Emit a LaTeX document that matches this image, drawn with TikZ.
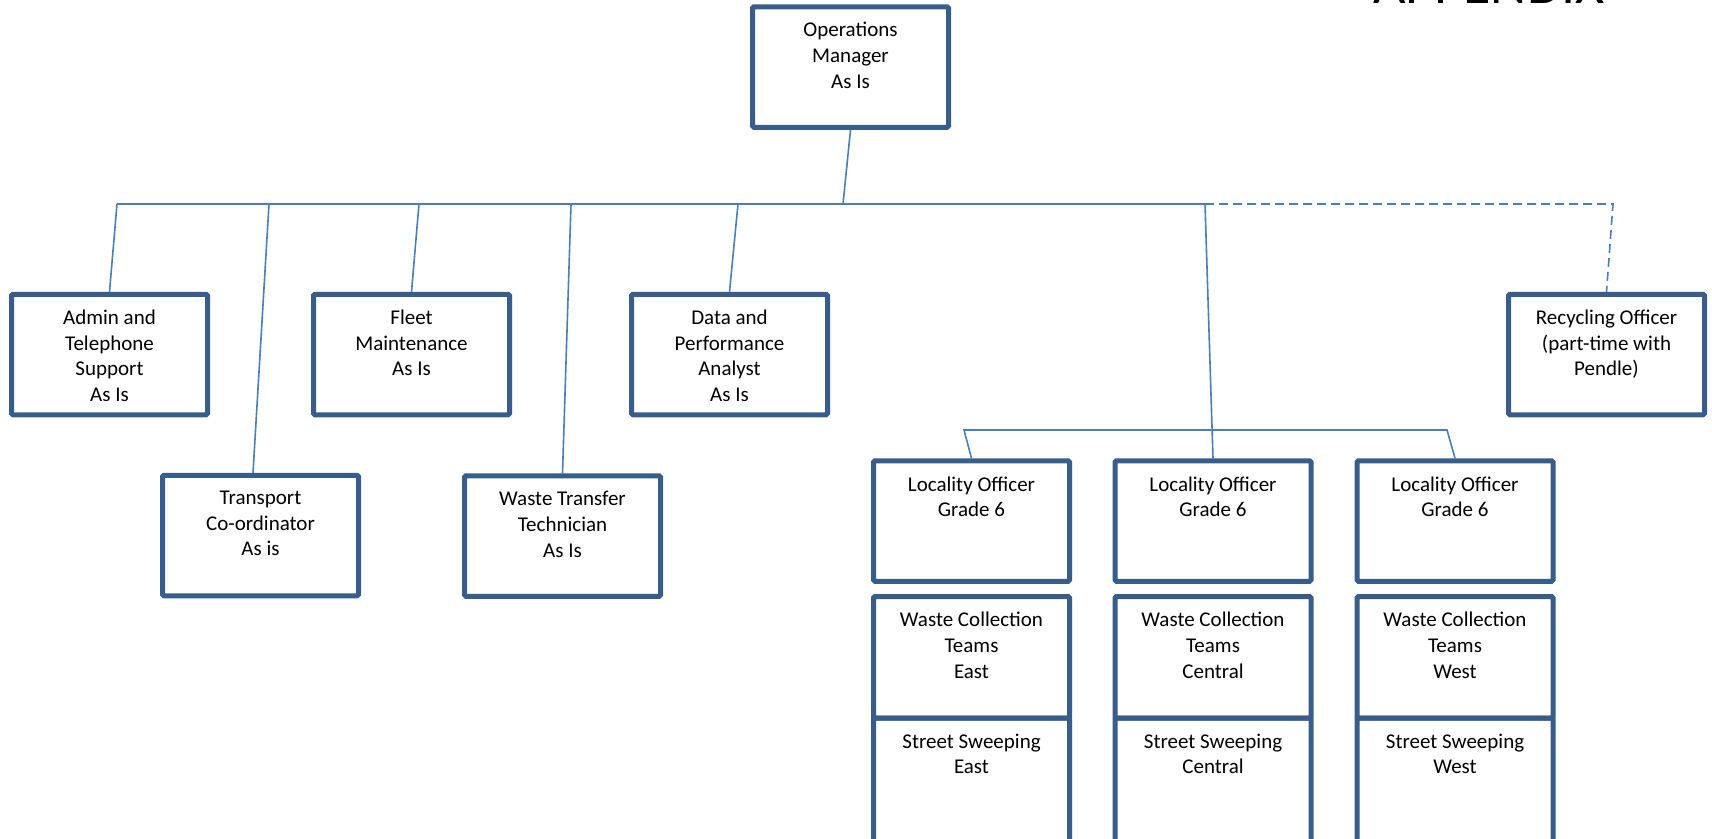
\documentclass[tikz,border=0pt]{standalone}
\usepackage{fontspec}
\setmainfont{Carlito}
\usetikzlibrary{backgrounds,calc}
\definecolor{boxblue}{HTML}{385D8A}
\definecolor{lineblue}{HTML}{4A7EBB}
\begin{document}
\begin{tikzpicture}[x=1pt,y=-1pt,
  box/.style={draw=boxblue, line width=5pt, rounded corners=1.5pt, minimum width=196pt, minimum height=120.5pt, inner sep=0pt},
  lbl/.style={font=\fontsize{21}{25.7}\selectfont, align=center, anchor=north, inner sep=0pt,
    execute at begin node={\rule{0pt}{18pt}}},
  conn/.style={draw=lineblue, line width=1.6pt},
  dconn/.style={conn, dash pattern=on 9pt off 5pt}]
\useasboundingbox (0,0) rectangle (1712,838);
\clip (0,0) rectangle (1712,838);

% title (cut off at the top)
\node[font=\fontsize{56}{60}\selectfont, anchor=base west, inner sep=0pt] (app) at (1373,3.5) {APPENDIX};

% boxes
\node[box] (om) at (850.5,67) {};
\node[box] (admin) at (109.5,354.5) {};
\node[box] (trans) at (260.5,535.5) {};
\node[box] (fleet) at (411.5,354.5) {};
\node[box] (wt) at (562.5,536) {};
\node[box] (data) at (729.5,354.5) {};
\node[box] (rec) at (1606.5,354.5) {};
\node[box] (loc1) at (971.5,521) {};
\node[box] (loc2) at (1213,521) {};
\node[box] (loc3) at (1455,521) {};
\node[box, minimum height=121.5pt] (wc1) at (971.5,657.25) {};
\node[box, minimum height=121.5pt] (wc2) at (1213,657.25) {};
\node[box, minimum height=121.5pt] (wc3) at (1455,657.25) {};
\node[box, minimum height=130pt] (ss1) at (971.5,783) {};
\node[box, minimum height=130pt] (ss2) at (1213,783) {};
\node[box, minimum height=130pt] (ss3) at (1455,783) {};

% labels
\tikzset{lblshift/.style={yshift=-18pt}}
\node[lbl] at ([lblshift]om.north) {Operations\\Manager\\As Is};
\node[lbl] at ([lblshift]admin.north) {Admin and\\Telephone\\Support\\As Is};
\node[lbl] at ([lblshift]trans.north) {Transport\\Co-ordinator\\As is};
\node[lbl] at ([lblshift]fleet.north) {Fleet\\Maintenance\\As Is};
\node[lbl] at ([lblshift]wt.north) {Waste Transfer\\Technician\\As Is};
\node[lbl] at ([lblshift]data.north) {Data and\\Performance\\Analyst\\As Is};
\node[lbl] at ([lblshift]rec.north) {Recycling Officer\\(part-time with\\Pendle)};
\node[lbl] at ([lblshift]loc1.north) {Locality Officer\\Grade 6};
\node[lbl] at ([lblshift]loc2.north) {Locality Officer\\Grade 6};
\node[lbl] at ([lblshift]loc3.north) {Locality Officer\\Grade 6};
\node[lbl] at ([lblshift]wc1.north) {Waste Collection\\Teams\\East};
\node[lbl] at ([lblshift]wc2.north) {Waste Collection\\Teams\\Central};
\node[lbl] at ([lblshift]wc3.north) {Waste Collection\\Teams\\West};
\node[lbl] at ([lblshift]ss1.north) {Street Sweeping\\East};
\node[lbl] at ([lblshift]ss2.north) {Street Sweeping\\Central};
\node[lbl] at ([lblshift]ss3.north) {Street Sweeping\\West};

% connector points
\coordinate (busL) at (117,204);
\coordinate (busR) at (1205,204);
\coordinate (dashC) at (1613,204);
\coordinate (omB) at (843,204);
\coordinate (bTr) at (269,204);
\coordinate (bFl) at (419,204);
\coordinate (bWt) at (571,204);
\coordinate (bDa) at (738,204);
\coordinate (subL) at (964,430);
\coordinate (subR) at (1447,430);

\begin{scope}[on background layer]
\draw[conn] (om.south) -- (omB);
\draw[conn] (busL) -- (busR);
\draw[dconn] (busR) -- (dashC) -- (rec.north);
\draw[conn] (busL) -- (admin.north);
\draw[conn] (bTr) -- ([xshift=-7.5pt]trans.north);
\draw[conn] (bFl) -- (fleet.north);
\draw[conn] (bWt) -- (wt.north);
\draw[conn] (bDa) -- (data.north);
\draw[conn] (busR) -- (loc2.north);
\draw[conn] (loc1.north) -- (subL) -- (subR) -- (loc3.north);
\end{scope}
\end{tikzpicture}
\end{document}
